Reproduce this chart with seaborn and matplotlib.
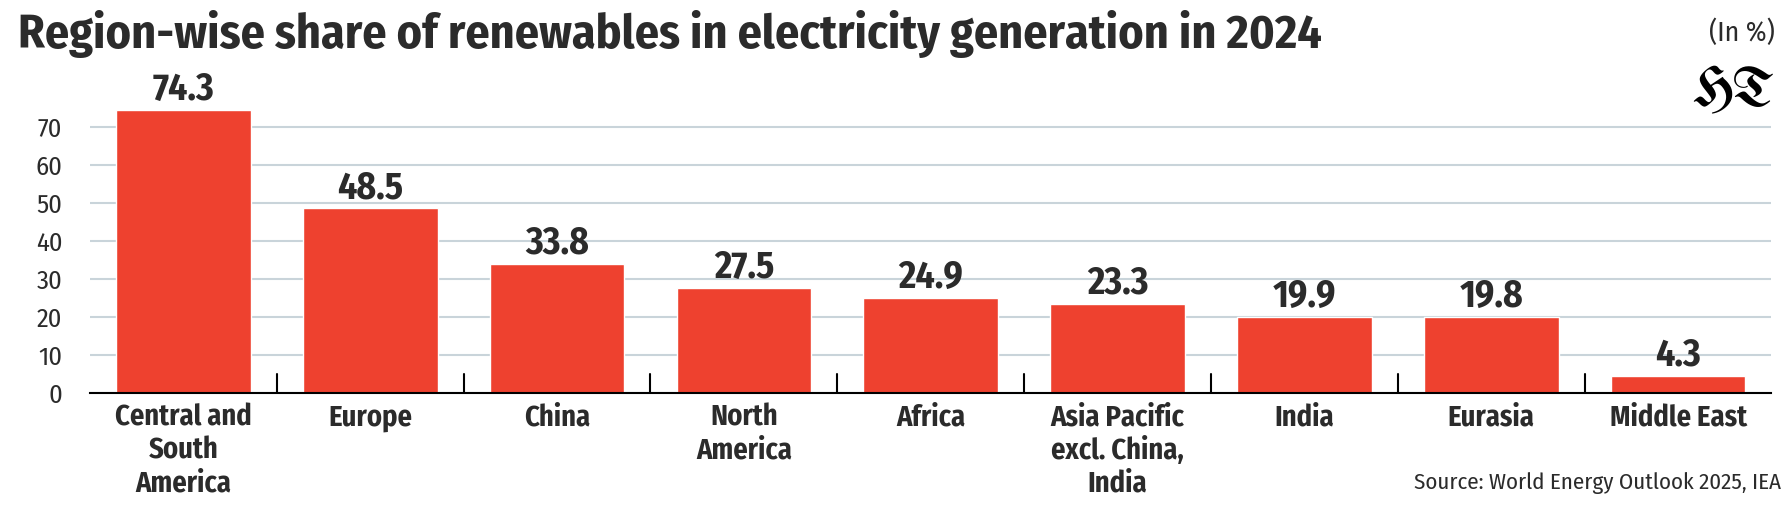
import matplotlib
matplotlib.use("Agg")
import matplotlib.pyplot as plt
import seaborn as sns
import pandas as pd
from matplotlib.ticker import FixedLocator

regions = ["Central and\nSouth\nAmerica", "Europe", "China", "North\nAmerica", "Africa",
           "Asia Pacific\nexcl. China,\nIndia", "India", "Eurasia", "Middle East"]
share = [74.3, 48.5, 33.8, 27.5, 24.9, 23.3, 19.9, 19.8, 4.3]
yticks = [0, 10, 20, 30, 40, 50, 60, 70]

BAR = "#EE412F"
INK = "#2B2B2B"
GRID = "#C9D4DA"

sns.set_style("white")
plt.rcParams["font.family"] = ["Fira Sans Condensed", "Roboto Condensed", "PT Sans Narrow",
                               "Liberation Sans Narrow", "DejaVu Sans"]

df = pd.DataFrame({"region": regions, "share": share})

W, H = 1790, 509
fig = plt.figure(figsize=(W / 100, H / 100), dpi=100)
# axes box in pixels: left 90, right 1771.5, baseline y=392.7, 10 units = 38 px
ax = fig.add_axes([90 / W, (H - 392.7) / H, 1681.5 / W, 304 / H])

sns.barplot(data=df, x="region", y="share", color=BAR, saturation=1, width=0.72, ax=ax, zorder=3)

ax.set_xlim(-0.5, len(regions) - 0.5)
ax.set_ylim(0, 80)
ax.set_yticks(yticks)
ax.set_yticklabels([str(t) for t in yticks], fontsize=19, color=INK)
ax.yaxis.grid(True, color=GRID, lw=1.5, zorder=0)
ax.set_axisbelow(True)
ax.tick_params(axis="y", length=0, pad=20)

ax.set_xlabel("")
ax.set_ylabel("")
ax.tick_params(axis="x", which="major", length=0, pad=8)
for lab in ax.get_xticklabels():
    lab.set_fontsize(20.5)
    lab.set_fontweight("bold")
    lab.set_color(INK)

# separators between categories: below the baseline as minor ticks, a short stub above it
seps = [i + 0.5 for i in range(len(regions) - 1)]
ax.xaxis.set_minor_locator(FixedLocator(seps))
ax.tick_params(axis="x", which="minor", length=41, width=1.5, color="black", direction="out")
for s in seps:
    ax.axvline(s, ymin=0, ymax=19 / 304, color="black", lw=1.5, zorder=4)

for s in ["top", "right", "left"]:
    ax.spines[s].set_visible(False)
ax.spines["bottom"].set_color("black")
ax.spines["bottom"].set_linewidth(1.5)
ax.spines["bottom"].set_zorder(4)

for c in ax.containers:
    ax.bar_label(c, labels=[f"{v:.1f}" for v in share], padding=1.5, fontsize=27,
                 fontweight="bold", color=INK, clip_on=False, zorder=5)

fig.text(18 / W, 1 - 47.7 / H, "Region-wise share of renewables in electricity generation in 2024",
         fontsize=34.5, fontweight="bold", color=INK, ha="left", va="baseline")
fig.text(1775 / W, 1 - 33 / H, "(In %)", fontsize=20, color=INK, ha="right", va="center")
fig.text(1775 / W, 1 - 91 / H, "HT", fontsize=40, color="black", ha="right", va="center",
         family=["UnifrakturMaguntia", "UnifrakturCook", "DejaVu Serif"])
fig.text(1781.5 / W, 1 - 489.3 / H, "Source: World Energy Outlook 2025, IEA", fontsize=16.5,
         color=INK, ha="right", va="baseline")

fig.savefig("out.png", dpi=100, facecolor="white")
